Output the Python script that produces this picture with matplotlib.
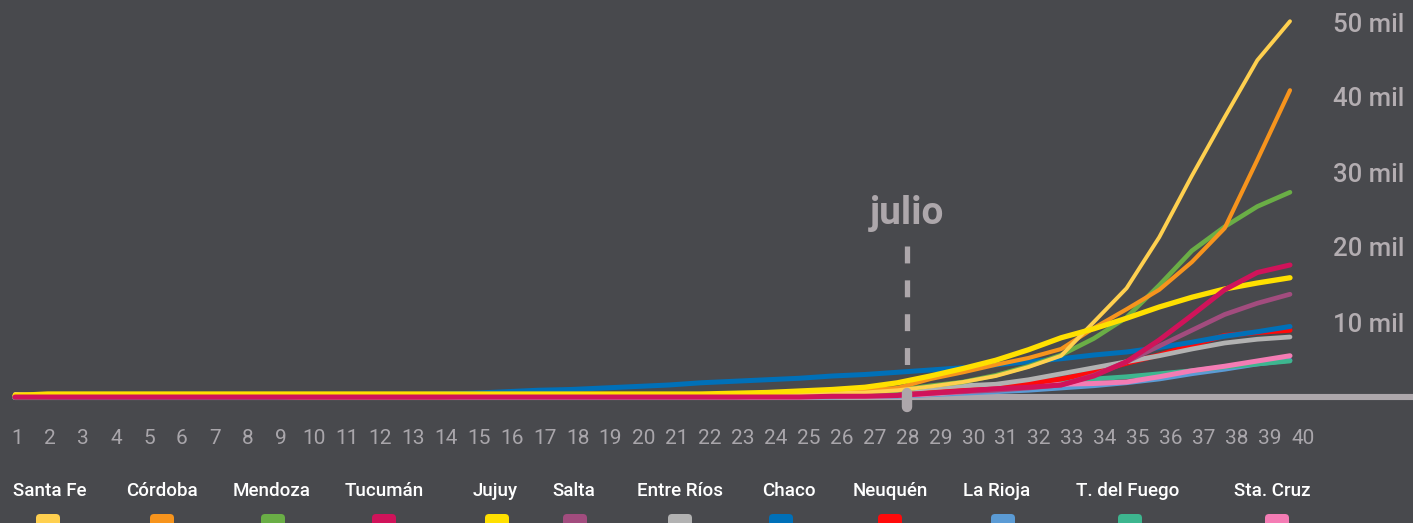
import matplotlib
matplotlib.use("Agg")
import matplotlib.pyplot as plt
from matplotlib.patches import FancyBboxPatch

# semanas epidemiológicas
semanas = list(range(1, 41))

# casos acumulados por provincia (miles)
santa_fe = [0.4, 0.3, 0.3, 0.3, 0.3, 0.3, 0.3, 0.3, 0.3, 0.3,
            0.3, 0.3, 0.3, 0.3, 0.3, 0.3, 0.3, 0.3, 0.3, 0.3,
            0.3, 0.3, 0.3, 0.4, 0.4, 0.5, 0.6, 0.9, 1.4, 2.0,
            2.8, 4.0, 5.5, 10.0, 14.5, 21.3, 29.5, 37.3, 44.9, 50.1]
cordoba = [0.1, 0.1, 0.1, 0.2, 0.2, 0.2, 0.2, 0.2, 0.2, 0.2,
           0.2, 0.2, 0.2, 0.2, 0.2, 0.2, 0.3, 0.3, 0.3, 0.3,
           0.3, 0.4, 0.4, 0.5, 0.6, 0.7, 0.9, 1.2, 2.4, 3.3,
           4.3, 5.2, 6.4, 9.2, 11.7, 14.3, 18.0, 22.5, 31.6, 40.9]
mendoza = [0.0, 0.0, 0.1, 0.1, 0.1, 0.1, 0.1, 0.1, 0.1, 0.1,
           0.1, 0.1, 0.1, 0.1, 0.1, 0.1, 0.1, 0.1, 0.1, 0.1,
           0.1, 0.1, 0.2, 0.2, 0.3, 0.4, 0.6, 0.9, 1.5, 2.0,
           2.9, 4.1, 5.6, 7.8, 10.6, 14.9, 19.5, 22.7, 25.4, 27.3]
tucuman = [0.0, 0.0, 0.0, 0.0, 0.0, 0.0, 0.0, 0.0, 0.0, 0.0,
           0.0, 0.0, 0.0, 0.0, 0.0, 0.0, 0.0, 0.0, 0.0, 0.0,
           0.0, 0.0, 0.0, 0.0, 0.0, 0.1, 0.1, 0.2, 0.5, 0.8,
           1.1, 1.3, 1.6, 2.8, 4.7, 7.6, 10.9, 14.3, 16.6, 17.6]
jujuy = [0.2, 0.4, 0.4, 0.4, 0.4, 0.4, 0.4, 0.4, 0.4, 0.4,
         0.4, 0.4, 0.4, 0.4, 0.4, 0.4, 0.4, 0.4, 0.4, 0.4,
         0.4, 0.4, 0.5, 0.6, 0.8, 1.0, 1.3, 1.9, 2.8, 3.8,
         4.9, 6.3, 7.9, 9.1, 10.5, 12.0, 13.3, 14.4, 15.2, 15.9]
salta = [0.0, 0.0, 0.0, 0.0, 0.0, 0.0, 0.0, 0.0, 0.0, 0.0,
         0.0, 0.0, 0.0, 0.0, 0.0, 0.0, 0.0, 0.0, 0.0, 0.0,
         0.0, 0.0, 0.0, 0.1, 0.1, 0.1, 0.2, 0.3, 0.5, 0.7,
         0.9, 1.2, 1.6, 2.9, 4.7, 6.8, 8.9, 11.0, 12.5, 13.7]
entre_rios = [0.0, 0.0, 0.0, 0.0, 0.0, 0.0, 0.0, 0.0, 0.0, 0.0,
              0.0, 0.0, 0.0, 0.0, 0.0, 0.0, 0.0, 0.1, 0.1, 0.1,
              0.1, 0.2, 0.2, 0.3, 0.4, 0.5, 0.7, 0.9, 1.2, 1.5,
              1.7, 2.3, 3.1, 3.9, 4.7, 5.5, 6.4, 7.2, 7.7, 8.0]
chaco = [0.0, 0.0, 0.0, 0.0, 0.0, 0.0, 0.0, 0.0, 0.0, 0.1,
         0.1, 0.2, 0.3, 0.4, 0.5, 0.7, 0.9, 1.0, 1.2, 1.4,
         1.6, 1.9, 2.1, 2.3, 2.5, 2.8, 3.0, 3.3, 3.6, 3.9,
         4.3, 4.7, 5.1, 5.6, 6.0, 6.6, 7.3, 8.1, 8.7, 9.4]
neuquen = [0.0, 0.0, 0.0, 0.0, 0.0, 0.0, 0.0, 0.0, 0.0, 0.0,
           0.0, 0.0, 0.0, 0.0, 0.1, 0.1, 0.1, 0.1, 0.1, 0.2,
           0.2, 0.2, 0.3, 0.3, 0.4, 0.5, 0.6, 0.8, 0.9, 1.1,
           1.4, 1.8, 2.4, 3.3, 4.5, 5.6, 6.9, 8.2, 8.6, 8.9]
la_rioja = [0.0, 0.0, 0.0, 0.0, 0.0, 0.0, 0.0, 0.0, 0.0, 0.0,
            0.0, 0.0, 0.0, 0.0, 0.0, 0.0, 0.0, 0.0, 0.0, 0.0,
            0.0, 0.0, 0.0, 0.0, 0.0, 0.0, 0.1, 0.1, 0.3, 0.5,
            0.7, 0.9, 1.2, 1.5, 1.9, 2.4, 3.1, 3.7, 4.4, 4.9]
tierra_del_fuego = [0.0, 0.0, 0.0, 0.1, 0.1, 0.1, 0.1, 0.1, 0.1, 0.1,
                    0.1, 0.1, 0.1, 0.1, 0.1, 0.1, 0.1, 0.1, 0.1, 0.1,
                    0.1, 0.1, 0.1, 0.1, 0.1, 0.1, 0.2, 0.2, 0.4, 0.7,
                    1.2, 1.7, 2.1, 2.4, 2.7, 3.1, 3.5, 4.0, 4.4, 4.8]
santa_cruz = [0.0, 0.0, 0.0, 0.0, 0.0, 0.0, 0.0, 0.0, 0.0, 0.0,
              0.0, 0.0, 0.0, 0.0, 0.0, 0.0, 0.0, 0.0, 0.0, 0.0,
              0.0, 0.0, 0.0, 0.0, 0.0, 0.1, 0.1, 0.2, 0.4, 0.7,
              1.0, 1.4, 1.7, 1.8, 2.0, 2.7, 3.5, 4.1, 4.8, 5.5]

provincias = ["Santa Fe", "Córdoba", "Mendoza", "Tucumán", "Jujuy", "Salta",
              "Entre Ríos", "Chaco", "Neuquén", "La Rioja", "T. del Fuego",
              "Sta. Cruz"]
series = [santa_fe, cordoba, mendoza, tucuman, jujuy, salta, entre_rios,
          chaco, neuquen, la_rioja, tierra_del_fuego, santa_cruz]
colores = ["#FFD04F", "#F7941D", "#6AAE46", "#D0135A", "#FFE000", "#A24C7E",
           "#B2B2B2", "#0070B8", "#FF0A0A", "#5B9BD5", "#3DB68F", "#F47CB4"]

ticks_y = [10, 20, 30, 40, 50]
mes_semana = 28
mes_nombre = "julio"

# ---- layout (pixels) ----
W, H = 1413, 523
FONDO = "#48494D"
GRIS = "#ADA7AB"
x_linea0, x_linea40 = 15, 1290     # where week 1 / week 40 of the lines sit
x_tick0, x_tick40 = 17, 1303       # where the week labels sit
y_cero, px_por_mil = 397, 7.5

plt.rcParams["font.family"] = ["Roboto", "DejaVu Sans"]

fig = plt.figure(figsize=(W / 100, H / 100), dpi=100, facecolor=FONDO)

# lines axes
ax = fig.add_axes([0, 0, 1, 1])
ax.set_facecolor("none")
paso = (x_linea40 - x_linea0) / 39
ax.set_xlim(1 - x_linea0 / paso, 1 + (W - x_linea0) / paso)
ax.set_ylim((y_cero - H) / px_por_mil, y_cero / px_por_mil)
for s in ax.spines.values():
    s.set_visible(False)

# baseline
ax.hlines(0, semanas[0], ax.get_xlim()[1] + 1, color=GRIS, lw=4.4,
          capstyle="round", zorder=1)

orden = [9, 10, 11, 8, 6, 7, 5, 2, 1, 0, 4, 3]
anchos = [2.8, 3.0, 3.3, 3.6, 3.8, 3.4, 3.4, 3.6, 3.6, 3.4, 3.4, 3.6]
for i in orden:
    ax.plot(semanas, series[i], color=colores[i], lw=anchos[i],
            solid_joinstyle="round", solid_capstyle="round", zorder=3)

ax.set_xticks([])
ax.yaxis.tick_right()
ax.set_yticks(ticks_y)
ax.set_yticklabels([f"{v} mil" for v in ticks_y])
ax.tick_params(axis="y", length=0, pad=-(W - 1333) * 0.72,
               labelsize=18.5, labelcolor="#B3ADB1")
for t in ax.get_yticklabels():
    t.set_fontweight("medium")

# week labels axes
axl = fig.add_axes([0, 0, 1, 1])
axl.set_facecolor("none")
paso_t = (x_tick40 - x_tick0) / 39
axl.set_xlim(1 - x_tick0 / paso_t, 1 + (W - x_tick0) / paso_t)
axl.set_ylim(ax.get_ylim())
for s in axl.spines.values():
    s.set_visible(False)
axl.set_yticks([])
axl.set_xticks(semanas)
axl.set_xticklabels([str(s) for s in semanas])
axl.tick_params(axis="x", length=0, pad=-(H - 429) * 0.72,
                labelsize=15, labelcolor="#A9A6AB")

# month marker
y_px = lambda p: (y_cero - p) / px_por_mil
axl.plot([mes_semana, mes_semana], [y_px(246), y_px(366)], color=GRIS,
         lw=3.8, linestyle=(0, (17 / 5.3, 17 / 5.3)), dash_capstyle="butt",
         zorder=2)
axl.plot([mes_semana, mes_semana], [y_px(393), y_px(407)], color=GRIS,
         lw=7.5, solid_capstyle="round", zorder=4)
axl.text(mes_semana, y_px(213), mes_nombre, ha="center", va="center",
         fontsize=28, fontweight="bold", color=GRIS)

# legend (pixel axes)
axp = fig.add_axes([0, 0, 1, 1])
axp.set_facecolor("none")
axp.set_xlim(0, W)
axp.set_ylim(H, 0)
axp.axis("off")
x_nombres = [50, 162, 272, 384, 495, 574, 680, 789, 890, 997, 1128, 1272]
x_marcas = [48, 162, 273, 384, 497, 575, 680, 781, 890, 1003, 1130, 1277]
for nombre, c, xn, xm in zip(provincias, colores, x_nombres, x_marcas):
    axp.text(xn, 491, nombre, ha="center", va="center", fontsize=13.5,
             fontweight="medium", color="white")
    axp.add_patch(FancyBboxPatch((xm - 12, 514), 24, 16,
                                 boxstyle="round,pad=0,rounding_size=4",
                                 fc=c, ec="none"))

fig.savefig("out.png", dpi=100, facecolor=FONDO)
